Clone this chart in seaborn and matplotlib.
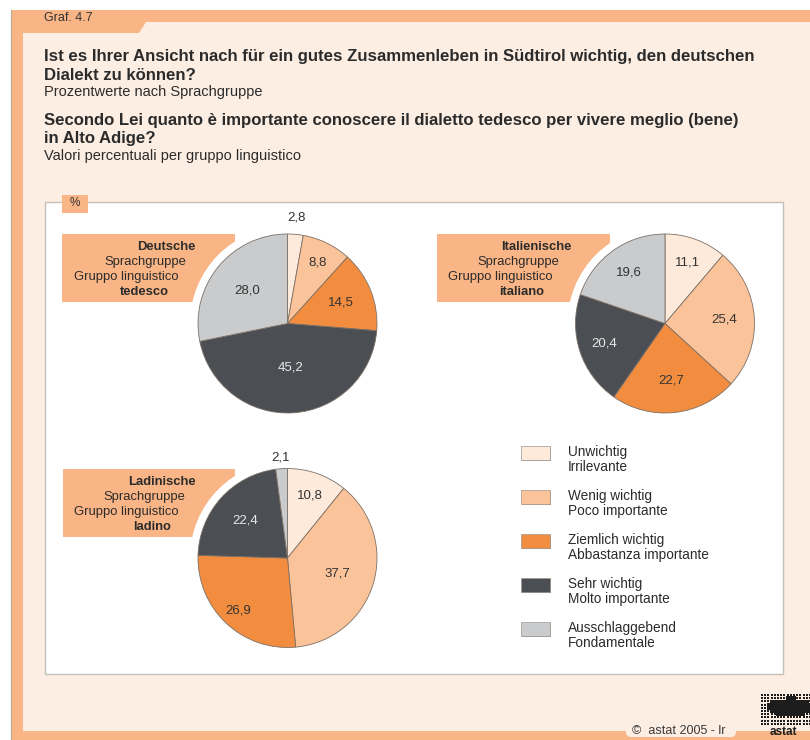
import matplotlib
matplotlib.use("Agg")
import matplotlib.pyplot as plt
import matplotlib.patches as mpatches
import numpy as np
import seaborn as sns

# ---- data -------------------------------------------------------------
categories_de = ["Unwichtig", "Wenig wichtig", "Ziemlich wichtig",
                 "Sehr wichtig", "Ausschlaggebend"]
categories_it = ["Irrilevante", "Poco importante", "Abbastanza importante",
                 "Molto importante", "Fondamentale"]

values_deutsch = [2.8, 8.8, 14.5, 45.2, 28.0]
values_italienisch = [11.1, 25.4, 22.7, 20.4, 19.6]
values_ladinisch = [10.8, 37.7, 26.9, 22.4, 2.1]

group_labels = [
    ("Deutsche", "Sprachgruppe", "Gruppo linguistico", "tedesco"),
    ("Italienische", "Sprachgruppe", "Gruppo linguistico", "italiano"),
    ("Ladinische", "Sprachgruppe", "Gruppo linguistico", "ladino"),
]

title_de = ["Ist es Ihrer Ansicht nach für ein gutes Zusammenleben in Südtirol wichtig, den deutschen",
            "Dialekt zu können?"]
subtitle_de = "Prozentwerte nach Sprachgruppe"
title_it = ["Secondo Lei quanto è importante conoscere il dialetto tedesco per vivere meglio (bene)",
            "in Alto Adige?"]
subtitle_it = "Valori percentuali per gruppo linguistico"

# ---- style ------------------------------------------------------------
sns.set_theme(style="white")
plt.rcParams["font.family"] = ["Liberation Sans", "DejaVu Sans"]

slice_colors = sns.color_palette(["#fdeadb", "#fbc39a", "#f28d3f", "#4b4e52", "#c9cbcd"])
ORANGE = "#f9b586"
PEACH = "#fdeee3"
TXT = "#2b2b2b"

W, H = 810, 740
fig = plt.figure(figsize=(W / 100, H / 100), dpi=100)
fig.patch.set_facecolor("white")

bg = fig.add_axes([0, 0, 1, 1])
bg.set_xlim(0, W)
bg.set_ylim(H, 0)
bg.axis("off")

# page frame
bg.add_patch(mpatches.Rectangle((11, 10), W - 11, H - 10, color=PEACH, lw=0))
bg.add_patch(mpatches.Rectangle((11, 10), 12, H - 10, color=ORANGE, lw=0))
bg.add_patch(mpatches.Rectangle((11, 10), W - 11, 12, color=ORANGE, lw=0))
bg.add_patch(mpatches.Polygon([(11, 10), (150, 10), (150, 22), (146, 22), (139, 33), (11, 33)],
                              closed=True, color=ORANGE, lw=0))
bg.add_patch(mpatches.Rectangle((11, 731), W - 11, 9, color=ORANGE, lw=0))
bg.plot([11, 11], [10, H], color="#b9a898", lw=0.8)
bg.add_patch(mpatches.FancyBboxPatch((626, 726), 110, 11,
                                     boxstyle="round,pad=0,rounding_size=5",
                                     color=PEACH, lw=0))

bg.text(44, 18, "Graf. 4.7", fontsize=9, color="#333333", va="center", ha="left")

# titles
y = 57
for line in title_de:
    bg.text(44, y, line, fontsize=12.1, fontweight="bold", color=TXT, va="center")
    y += 18
bg.text(44, 92, subtitle_de, fontsize=10.5, color=TXT, va="center")
y = 120
for line in title_it:
    bg.text(44, y, line, fontsize=12.1, fontweight="bold", color=TXT, va="center")
    y += 18
bg.text(44, 156, subtitle_it, fontsize=10.5, color=TXT, va="center")

# white chart panel
bg.add_patch(mpatches.Rectangle((46, 203), 738, 472, facecolor="#d9d2ca", lw=0))
bg.add_patch(mpatches.Rectangle((45, 202), 738, 472, facecolor="white",
                                edgecolor="#c6bfb7", lw=1))
bg.add_patch(mpatches.Rectangle((62, 195), 26, 18, color=ORANGE, lw=0))
bg.text(75, 203, "%", fontsize=8.5, color="#333333", ha="center", va="center")

# pie layout: centre, label box, label radii
R_PIE = 89.5
layouts = [
    dict(values=values_deutsch, cx=287.5, cy=323.5, box=(62, 234, 235, 302),
         text_x=[196, 186, 178, 169], text_y0=247,
         dist=[1.19, 0.76, 0.64, 0.49, 0.58]),
    dict(values=values_italienisch, cx=665, cy=323.5, box=(437, 234, 610, 302),
         text_x=[571, 559, 552, 544], text_y0=247,
         dist=[0.73, 0.66, 0.64, 0.71, 0.70]),
    dict(values=values_ladinisch, cx=287.5, cy=558, box=(63, 469, 235, 537),
         text_x=[196, 185, 178, 171], text_y0=482,
         dist=[0.74, 0.58, 0.80, 0.63, 1.13]),
]

for lay, labels in zip(layouts, group_labels):
    x0, y0, x1, y1 = lay["box"]
    bg.add_patch(mpatches.Rectangle((x0, y0), x1 - x0, y1 - y0, color=ORANGE, lw=0))
    bg.add_patch(mpatches.Circle((lay["cx"], lay["cy"]), R_PIE + 8, color="white", lw=0))
    for i, (line, tx) in enumerate(zip(labels, lay["text_x"])):
        bold = i in (0, 3)
        bg.text(tx, lay["text_y0"] + i * 15, line, fontsize=9.4,
                fontweight="bold" if bold else "normal", color=TXT,
                ha="right", va="center")

    pad = 1.35
    half = R_PIE * pad
    ax = fig.add_axes([(lay["cx"] - half) / W, 1 - (lay["cy"] + half) / H,
                       2 * half / W, 2 * half / H])
    ax.axis("off")
    wedges, _ = ax.pie(lay["values"], colors=slice_colors, startangle=90,
                       counterclock=False, radius=1,
                       wedgeprops=dict(edgecolor="#7d7066", linewidth=0.6))
    ax.set_xlim(-pad, pad)
    ax.set_ylim(-pad, pad)
    for k, (w, v, d) in enumerate(zip(wedges, lay["values"], lay["dist"])):
        mid = np.deg2rad((w.theta1 + w.theta2) / 2)
        col = "#e8e8e8" if (k == 3 and d < 1) else "#333333"
        ax.text(d * np.cos(mid), d * np.sin(mid), f"{v:.1f}".replace(".", ","),
                fontsize=9.5, color=col, ha="center", va="center")

# legend
leg_y = 453
for k, (de, it) in enumerate(zip(categories_de, categories_it)):
    cy = leg_y + k * 44
    bg.add_patch(mpatches.Rectangle((522, cy - 6), 29, 14, facecolor="#9b9590", lw=0))
    bg.add_patch(mpatches.Rectangle((521, cy - 7), 29, 14, facecolor=slice_colors[k],
                                    edgecolor="#a09890", lw=0.5))
    bg.text(568, cy - 1, de, fontsize=9.8, color=TXT, va="center")
    bg.text(568, cy + 14, it, fontsize=9.8, color=TXT, va="center")

# footer
bg.text(632, 731, "\u00a9  astat 2005 - lr", fontsize=9, color="#3a3a3a", va="center")

# logo
xs, ys = np.meshgrid(np.arange(762, 811, 3.2), np.arange(695, 724, 3.2))
xs, ys = xs.ravel(), ys.ravel()
core = ((xs - 790) / 24) ** 2 + ((ys - 707) / 9) ** 2 < 1
sizes = np.where(core, 6.5, 2.0)
bg.scatter(xs, ys, s=sizes, color="#1d1d1d", marker="s", lw=0)
bg.text(770, 732, "astat", fontsize=8.5, fontweight="bold", color="#1d1d1d", va="center")

fig.savefig("out.png", dpi=100, facecolor=fig.get_facecolor())
